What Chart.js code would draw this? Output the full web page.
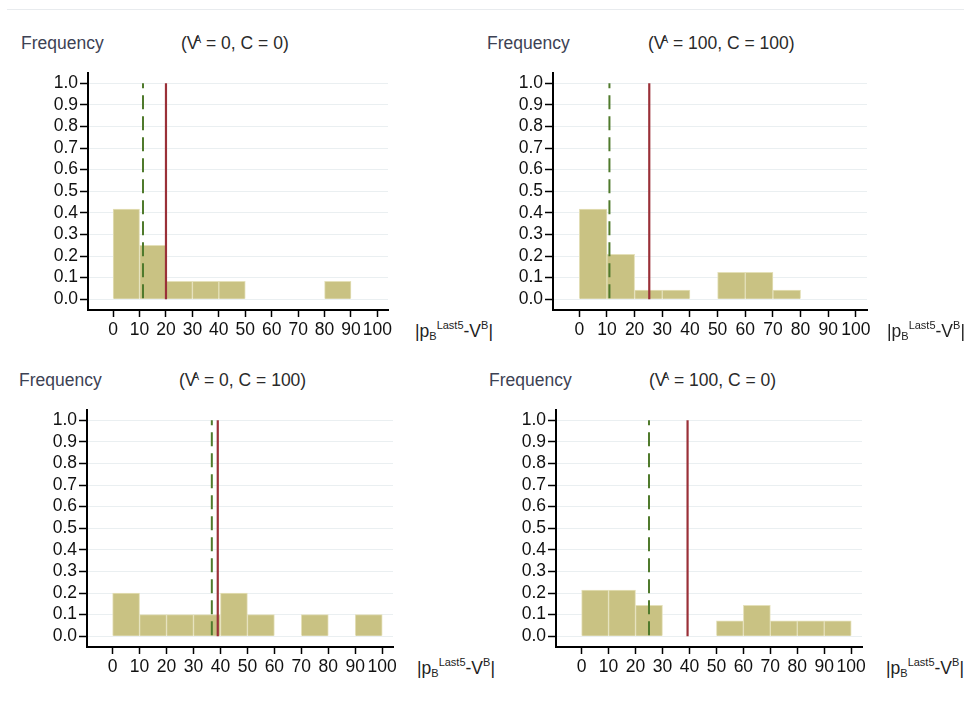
<!DOCTYPE html>
<html>
<head>
<meta charset="utf-8">
<title>Histograms of |pB Last5 - VB|</title>
<script src="https://cdn.jsdelivr.net/npm/chart.js@4.4.1/dist/chart.umd.min.js"></script>
<style>
  html, body { margin: 0; padding: 0; background: #fff; }
  body { width: 971px; height: 704px; position: relative; overflow: hidden;
         font-family: 'Liberation Sans', Arial, sans-serif; }
  .rule { position: absolute; left: 7px; top: 9px; width: 957px; height: 1px; background: #e8ebee; }
  canvas { position: absolute; }
  .lbl { position: absolute; font-size: 17.5px; line-height: 20px; white-space: nowrap; }
  .freq { color: #3d4254; }
  .ttl { color: #2a2a2a; }
  .ttl sup { font-size: 10px; position: relative; top: -3px; vertical-align: top; margin-left: -4px; }
  .xl { color: #222; }
  .xl .sb { font-size: 11px; position: relative; top: 3px; }
  .xl .sp { font-size: 11px; position: relative; top: -8px; }
</style>
</head>
<body>
<div class="rule"></div>
<script>
'use strict';

/* ── Data ─────────────────────────────────────────────────── */
const binMids = [5, 15, 25, 35, 45, 55, 65, 75, 85, 95];
const xTickValues = [0, 10, 20, 30, 40, 50, 60, 70, 80, 90, 100];
const xTickLabels = ['0', '10', '20', '30', '40', '50', '60', '70', '80', '90', '100'];
const yTickValues = [0, 0.1, 0.2, 0.3, 0.4, 0.5, 0.6, 0.7, 0.8, 0.9, 1.0];
const yTickLabels = ['0.0', '0.1', '0.2', '0.3', '0.4', '0.5', '0.6', '0.7', '0.8', '0.9', '1.0'];

const panelTitles = ['(V^A = 0, C = 0)', '(V^A = 100, C = 100)', '(V^A = 0, C = 100)', '(V^A = 100, C = 0)'];

const freqA0C0 = [0.417, 0.25, 0.083, 0.083, 0.083, 0, 0, 0, 0.083, 0];
const freqA100C100 = [0.417, 0.208, 0.042, 0.042, 0, 0.125, 0.125, 0.042, 0, 0];
const freqA0C100 = [0.2, 0.1, 0.1, 0.1, 0.2, 0.1, 0, 0.1, 0, 0.1];
const freqA100C0 = [0.214, 0.214, 0.143, 0, 0, 0.071, 0.143, 0.071, 0.071, 0.071];

const dashedLineAt = [11.3, 10.9, 36.8, 25.0];   // green dashed
const solidLineAt = [20.0, 25.3, 39.0, 39.3];    // red solid

/* ── Layout (chart area boxes, page px) ───────────────────── */
const panels = [
  { freq: freqA0C0,     area: { l: 88,  t: 70,  r: 388, b: 310 }, head: { fx: 21,  tx: 181, y: 43 },  xl: { x: 415, y: 331 } },
  { freq: freqA100C100, area: { l: 553, t: 70,  r: 867, b: 310 }, head: { fx: 487, tx: 648, y: 43 },  xl: { x: 887, y: 331 } },
  { freq: freqA0C100,   area: { l: 87,  t: 407, r: 393, b: 647 }, head: { fx: 19,  tx: 179, y: 380 }, xl: { x: 417, y: 668 } },
  { freq: freqA100C0,   area: { l: 556, t: 407, r: 862, b: 647 }, head: { fx: 489, tx: 649, y: 380 }, xl: { x: 886, y: 668 } }
];

const Y_AXIS_W = 40, X_AXIS_H = 32, PAD_TOP = 10, PAD_RIGHT = 22;
const FONT = { family: "'Liberation Sans', Arial, sans-serif", size: 17.5 };

document.addEventListener('DOMContentLoaded', () => {
  panels.forEach((p, i) => renderPanel(p, i));
});

function addLabel(cls, x, y, html) {
  const d = document.createElement('div');
  d.className = 'lbl ' + cls;
  d.style.left = x + 'px';
  d.style.top = (y - 10) + 'px';
  d.innerHTML = html;
  document.body.appendChild(d);
}

function titleHtml(t) {
  return t.replace('V^A', 'V<sup>A</sup>');
}

function renderPanel(p, i) {
  const a = p.area;
  const left = a.l - Y_AXIS_W;
  const top = a.t - PAD_TOP;
  const w = a.r - left + PAD_RIGHT;
  const h = a.b - top + X_AXIS_H;

  const cv = document.createElement('canvas');
  cv.width = w; cv.height = h;
  cv.style.left = left + 'px'; cv.style.top = top + 'px';
  cv.style.width = w + 'px'; cv.style.height = h + 'px';
  document.body.appendChild(cv);

  addLabel('freq', p.head.fx, p.head.y, 'Frequency');
  addLabel('ttl', p.head.tx, p.head.y, titleHtml(panelTitles[i]));
  addLabel('xl', p.xl.x, p.xl.y, '|p<span class="sb">B</span><span class="sp">Last5</span>-V<span class="sp">B</span>|');

  new Chart(cv, {
    type: 'bar',
    data: {
      datasets: [
        {
          type: 'line',
          data: [{ x: dashedLineAt[i], y: 1 }, { x: dashedLineAt[i], y: 0 }],
          borderColor: '#4f7a2c', borderWidth: 2, borderDash: [14, 7], borderDashOffset: 9,
          pointRadius: 0, order: 0
        },
        {
          type: 'line',
          data: [{ x: solidLineAt[i], y: 1 }, { x: solidLineAt[i], y: 0 }],
          borderColor: '#9a3038', borderWidth: 2.2,
          pointRadius: 0, order: 0
        },
        {
          type: 'bar',
          data: binMids.map((m, k) => ({ x: m, y: p.freq[k] })),
          backgroundColor: '#c9c283',
          borderColor: '#e4e0b9',
          borderWidth: 1,
          barPercentage: 1,
          categoryPercentage: 1,
          order: 1
        }
      ]
    },
    options: {
      responsive: false,
      animation: false,
      layout: { padding: { top: PAD_TOP, right: PAD_RIGHT, left: 0, bottom: 0 } },
      plugins: { legend: { display: false }, tooltip: { enabled: false }, title: { display: false } },
      scales: {
        x: {
          type: 'linear', min: -9.5, max: 104, offset: false,
          afterBuildTicks: s => { s.ticks = xTickValues.map(v => ({ value: v })); },
          afterFit: s => { s.height = X_AXIS_H; s.paddingLeft = 0; s.paddingRight = 0; },
          ticks: { callback: (v, k) => xTickLabels[k], font: FONT, color: '#111', padding: 3, maxRotation: 0, autoSkip: false },
          grid: { offset: false, drawOnChartArea: false, drawTicks: true, tickLength: 7, tickColor: '#000', tickWidth: 1.5 },
          border: { display: true, color: '#000', width: 2 }
        },
        y: {
          type: 'linear', min: -0.05, max: 1.05,
          afterBuildTicks: s => { s.ticks = yTickValues.map(v => ({ value: v })); },
          afterFit: s => { s.width = Y_AXIS_W; },
          ticks: { callback: (v, k) => yTickLabels[k], font: FONT, color: '#111', padding: 2, autoSkip: false },
          grid: { color: '#eaeff1', lineWidth: 1, drawTicks: true, tickLength: 8, tickColor: '#000', tickWidth: 1.5 },
          border: { display: true, color: '#000', width: 2 }
        }
      }
    }
  });
}
</script>
</body>
</html>
